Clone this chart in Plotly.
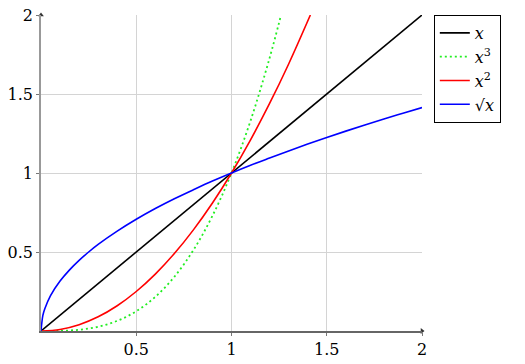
import plotly.graph_objects as go

x_lin = [0, 2]
y_lin = [0, 2]

x_cub = [0, 0.1, 0.2, 0.3, 0.4, 0.5, 0.6, 0.7, 0.8, 0.9, 1.0, 1.1, 1.2, 1.26]
y_cub = [0, 0.001, 0.008, 0.027, 0.064, 0.125, 0.216, 0.343, 0.512, 0.729, 1.0, 1.331, 1.728, 2.0]

x_sq = [0, 0.1, 0.2, 0.3, 0.4, 0.5, 0.6, 0.7, 0.8, 0.9, 1.0, 1.1, 1.2, 1.3, 1.414]
y_sq = [0, 0.01, 0.04, 0.09, 0.16, 0.25, 0.36, 0.49, 0.64, 0.81, 1.0, 1.21, 1.44, 1.69, 2.0]

x_rt = [0, 0.01, 0.02, 0.05, 0.1, 0.15, 0.2, 0.25, 0.3, 0.4, 0.5, 0.6, 0.7, 0.8, 0.9,
        1.0, 1.1, 1.2, 1.3, 1.4, 1.5, 1.6, 1.7, 1.8, 1.9, 2.0]
y_rt = [0, 0.1, 0.141, 0.224, 0.316, 0.387, 0.447, 0.5, 0.548, 0.632, 0.707, 0.775, 0.837,
        0.894, 0.949, 1.0, 1.049, 1.095, 1.140, 1.183, 1.225, 1.265, 1.304, 1.342, 1.378, 1.414]

tick_vals = [0.5, 1, 1.5, 2]
tick_text = ["0.5", "1", "1.5", "2"]

# axis arrow tips (end of each axis)
arrow_x = [2, 0]
arrow_y = [0, 2]
arrow_symbols = ["triangle-right", "triangle-up"]

FONT = "DejaVu Serif"

fig = go.Figure()
fig.add_trace(go.Scatter(x=x_lin, y=y_lin, mode="lines", name="<i>x</i>",
                         line=dict(color="black", width=1.6)))
fig.add_trace(go.Scatter(x=x_cub, y=y_cub, mode="lines", name="<i>x</i><sup>3</sup>",
                         line=dict(color="#22ee22", width=1.8, dash="2px,3px", shape="spline")))
fig.add_trace(go.Scatter(x=x_sq, y=y_sq, mode="lines", name="<i>x</i><sup>2</sup>",
                         line=dict(color="red", width=1.6, shape="spline")))
fig.add_trace(go.Scatter(x=x_rt, y=y_rt, mode="lines", name="√<i>x</i>",
                         line=dict(color="blue", width=1.6, shape="spline")))
fig.add_trace(go.Scatter(x=arrow_x, y=arrow_y, mode="markers", showlegend=False,
                         cliponaxis=False, hoverinfo="skip",
                         marker=dict(symbol=arrow_symbols, size=5, color="#333")))

axis_common = dict(
    range=[0, 2], tickvals=tick_vals, ticktext=tick_text, automargin=False,
    showgrid=True, gridcolor="#d4d4d4", gridwidth=1,
    showline=True, linewidth=1.5, zeroline=False,
    ticks="outside", ticklen=3, tickcolor="#777",
    tickfont=dict(family=FONT, size=16, color="black"),
)
fig.update_xaxes(**axis_common, linecolor="#666")
fig.update_yaxes(**axis_common, linecolor="#999")

fig.update_layout(
    width=525, height=364,
    margin=dict(l=41, r=103, t=15, b=33, autoexpand=False),
    plot_bgcolor="white", paper_bgcolor="white",
    font=dict(family=FONT, size=16, color="black"),
    legend=dict(x=1.031, y=1, xanchor="left", yanchor="top",
                bordercolor="black", borderwidth=1, bgcolor="white",
                font=dict(family=FONT, size=16), tracegroupgap=0, itemwidth=30),
)

fig.write_html("out.html", config={"displayModeBar": False},
               post_script="document.body.style.margin='0';")
